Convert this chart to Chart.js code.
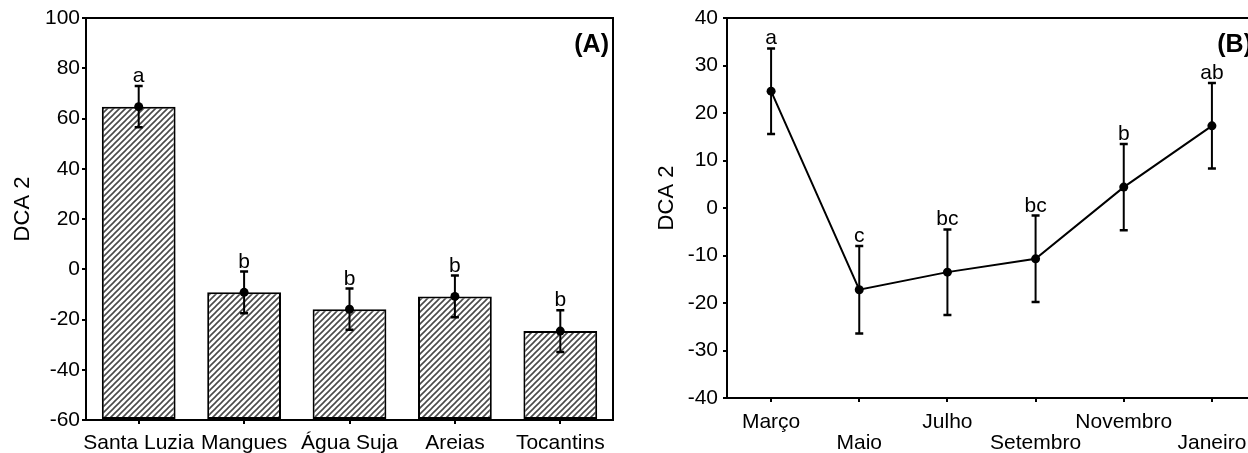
<!DOCTYPE html>
<html>
<head>
<meta charset="utf-8">
<script src="https://cdn.jsdelivr.net/npm/chart.js@4.4.1/dist/chart.umd.min.js"></script>
<style>
    html, body { margin: 0; padding: 0; background: #fff; overflow: hidden; }
    #wrap { position: relative; width: 1248px; height: 453px; overflow: hidden; }
    canvas { position: absolute; top: 0; }
</style>
</head>
<body>
<div id="wrap">
    <canvas id="chart-sites" width="640" height="453" style="left:0;width:640px;height:453px"></canvas>
    <canvas id="chart-months" width="640" height="453" style="left:640px;width:640px;height:453px"></canvas>
</div>
<script>
(function () {
    "use strict";

    const FONT = '"Liberation Sans", Arial, sans-serif';

    // panel A - sites
    const siteLabels = ['Santa Luzia', 'Mangues', 'Água Suja', 'Areias', 'Tocantins'];
    const siteMeans = [64.7, -9.2, -15.9, -10.8, -24.6];
    const siteErrors = [8.2, 8.3, 8.2, 8.3, 8.3];
    const siteLetters = ['a', 'b', 'b', 'b', 'b'];
    const siteTicks = { min: -60, max: 100, step: 20 };

    // panel B - months
    const monthLabels = ['Março', 'Maio', 'Julho', 'Setembro', 'Novembro', 'Janeiro'];
    const monthMeans = [24.6, -17.2, -13.5, -10.7, 4.4, 17.3];
    const monthErrors = [9.0, 9.2, 9.0, 9.1, 9.1, 9.0];
    const monthLetters = ['a', 'c', 'bc', 'bc', 'b', 'ab'];
    const monthTicks = { min: -40, max: 40, step: 10 };

    Chart.defaults.font.family = FONT;
    Chart.defaults.color = '#000';

    /* hatch fill for the bars */
    function hatch() {
        const n = 6;
        const c = document.createElement('canvas');
        c.width = n; c.height = n;
        const g = c.getContext('2d');
        g.fillStyle = '#fff';
        g.fillRect(0, 0, n, n);
        g.strokeStyle = '#4a4a4a';
        g.lineWidth = 1.6;
        g.beginPath();
        g.moveTo(-1, n + 1); g.lineTo(n + 1, -1);
        g.moveTo(-1, 1); g.lineTo(1, -1);
        g.moveTo(n - 1, n + 1); g.lineTo(n + 1, n - 1);
        g.stroke();
        return g.createPattern(c, 'repeat');
    }

    /* error bars + letters */
    const errorBars = {
        id: 'errorBars',
        afterDatasetsDraw(chart, args, opts) {
            const ctx = chart.ctx;
            const y = chart.scales.y;
            const meta = chart.getDatasetMeta(opts.dataset);
            ctx.save();
            ctx.strokeStyle = '#000';
            ctx.fillStyle = '#000';
            ctx.lineWidth = 2;
            ctx.font = '21px ' + FONT;
            ctx.textAlign = 'center';
            ctx.textBaseline = 'alphabetic';
            meta.data.forEach(function (pt, i) {
                const hi = y.getPixelForValue(opts.means[i] + opts.errors[i]);
                const lo = y.getPixelForValue(opts.means[i] - opts.errors[i]);
                ctx.beginPath();
                ctx.moveTo(pt.x, hi); ctx.lineTo(pt.x, lo);
                ctx.stroke();
                ctx.lineWidth = 2.5;
                ctx.beginPath();
                ctx.moveTo(pt.x - 4, hi); ctx.lineTo(pt.x + 4, hi);
                ctx.moveTo(pt.x - 4, lo); ctx.lineTo(pt.x + 4, lo);
                ctx.stroke();
                ctx.lineWidth = 2;
                ctx.fillText(opts.letters[i], pt.x, hi - 4);
            });
            ctx.restore();
        }
    };

    /* box frame, axis title, panel tag */
    const panel = {
        id: 'panel',
        afterDatasetsDraw(chart, args, opts) {
            const ctx = chart.ctx;
            const a = chart.chartArea;
            ctx.save();
            ctx.strokeStyle = '#000';
            ctx.lineWidth = 2;
            ctx.strokeRect(a.left, a.top, a.right - a.left, a.bottom - a.top);
            ctx.fillStyle = '#000';
            ctx.font = 'bold 25px ' + FONT;
            ctx.textAlign = 'right';
            ctx.textBaseline = 'alphabetic';
            ctx.fillText(opts.tag, a.right - 4, a.top + 34);
            ctx.translate(opts.titleX, (a.top + a.bottom) / 2 - 10);
            ctx.rotate(-Math.PI / 2);
            ctx.font = '22px ' + FONT;
            ctx.textAlign = 'center';
            ctx.textBaseline = 'middle';
            ctx.fillText(opts.title, 0, 0);
            ctx.restore();
        }
    };

    function yScale(t, width, pad) {
        return {
            min: t.min,
            max: t.max,
            ticks: { stepSize: t.step, font: { size: 21 }, padding: pad, color: '#000' },
            grid: { display: true, drawOnChartArea: false, drawTicks: true, tickLength: 4, color: '#000', lineWidth: 2 },
            border: { display: false },
            afterFit: function (s) { s.width = width; }
        };
    }

    /* bar chart (A) */
    const config1 = {
        type: 'bar',
        data: {
            labels: siteLabels,
            datasets: [{
                type: 'line',
                data: siteMeans,
                showLine: false,
                pointRadius: 4.5,
                pointBackgroundColor: '#000',
                pointBorderWidth: 0,
                order: 0
            }, {
                type: 'bar',
                data: siteMeans,
                base: siteTicks.min,
                backgroundColor: hatch(),
                borderColor: '#000',
                borderWidth: 2,
                borderSkipped: false,
                barPercentage: 0.7,
                categoryPercentage: 1.0,
                order: 1
            }]
        },
        options: {
            responsive: false,
            animation: false,
            layout: { padding: { top: 18, right: 27, left: 0, bottom: 0 } },
            plugins: {
                legend: { display: false },
                tooltip: { enabled: false },
                errorBars: { dataset: 0, means: siteMeans, errors: siteErrors, letters: siteLetters },
                panel: { tag: '(A)', title: 'DCA 2', titleX: 22.5 }
            },
            scales: {
                x: {
                    offset: true,
                    ticks: { font: { size: 21, lineHeight: 1.02 }, padding: 8, autoSkip: false, maxRotation: 0, color: '#000' },
                    grid: { display: true, offset: false, drawOnChartArea: false, drawTicks: true, tickLength: 4, color: '#000', lineWidth: 2 },
                    border: { display: false },
                    afterFit: function (s) { s.height = 33; }
                },
                y: yScale(siteTicks, 86, 2)
            }
        },
        plugins: [errorBars, panel]
    };
    const myChart1 = new Chart(document.getElementById('chart-sites'), config1);

    /* line chart (B) */
    const config2 = {
        type: 'line',
        data: {
            labels: monthLabels,
            datasets: [{
                data: monthMeans,
                borderColor: '#000',
                borderWidth: 2,
                pointRadius: 4.5,
                pointBackgroundColor: '#000',
                pointBorderWidth: 0,
                fill: false,
                tension: 0
            }]
        },
        options: {
            responsive: false,
            animation: false,
            layout: { padding: { top: 18, right: 24, left: 0, bottom: 0 } },
            plugins: {
                legend: { display: false },
                tooltip: { enabled: false },
                errorBars: { dataset: 0, means: monthMeans, errors: monthErrors, letters: monthLetters },
                panel: { tag: '(B)', title: 'DCA 2', titleX: 27 }
            },
            scales: {
                x: {
                    offset: true,
                    ticks: {
                        font: { size: 21, lineHeight: 1.02 },
                        padding: 9,
                        autoSkip: false,
                        maxRotation: 0,
                        color: '#000',
                        callback: function (v, i) {
                            const name = this.getLabelForValue(v);
                            return i % 2 ? ['', name] : name;
                        }
                    },
                    grid: { display: true, drawOnChartArea: false, drawTicks: true, tickLength: 4, color: '#000', lineWidth: 2 },
                    border: { display: false },
                    afterFit: function (s) { s.height = 55; }
                },
                y: yScale(monthTicks, 87, 5)
            }
        },
        plugins: [errorBars, panel]
    };
    const myChart2 = new Chart(document.getElementById('chart-months'), config2);

})();
</script>
</body>
</html>
